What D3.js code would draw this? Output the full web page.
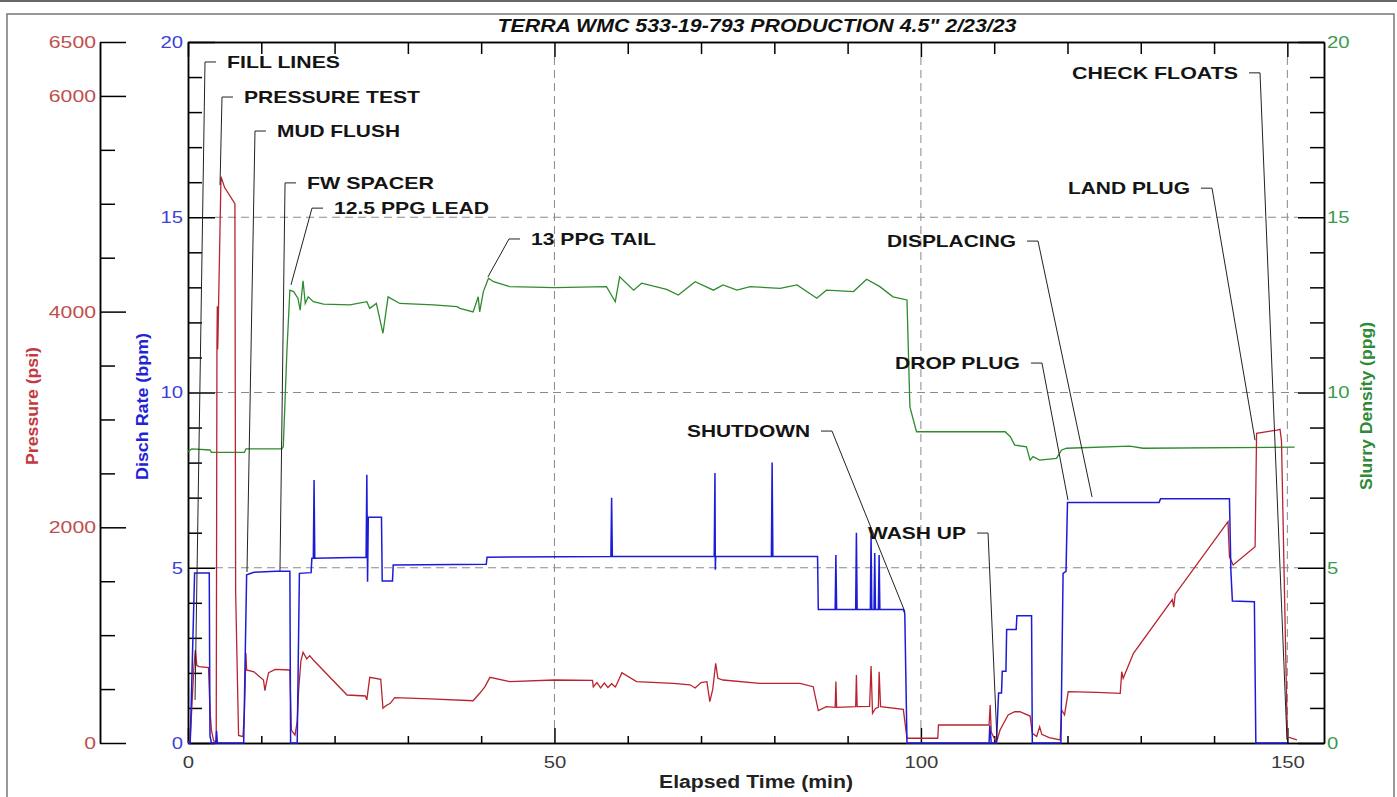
<!DOCTYPE html>
<html>
<head>
<meta charset="utf-8">
<script src="https://cdn.jsdelivr.net/npm/d3@7"></script>
<style>
  body { margin: 0; background: #fff; }
  svg { display: block; font-family: "Liberation Sans", Arial, sans-serif; }
</style>
</head>
<body>
<div id="chart"></div>
<script>
// Cement job chart: pressure, discharge rate and slurry density vs elapsed time

// ---- data ----
// [elapsed minutes, psi]
const pressureData = [
  [0, 0], [0.3, 30], [0.8, 700], [1.0, 862], [1.2, 720], [1.5, 708], [2.8, 700], [3.0, 300],
  [3.2, 120], [3.5, 20], [3.85, 10], [3.95, 3700], [4.0, 4050], [4.05, 3650], [4.1, 3800],
  [4.5, 5250], [5.0, 5150], [6.4, 5000], [6.5, 1400], [6.9, 70], [7.5, 58], [7.7, 300],
  [7.9, 834], [8.0, 677], [9, 660], [10.3, 584], [10.5, 485], [10.7, 560], [11.0, 652],
  [11.9, 683], [13.9, 677], [14.1, 120], [14.6, 74], [14.9, 200], [15.1, 491], [15.4, 760],
  [15.7, 841], [16.2, 780], [16.6, 810], [17.1, 770], [21.7, 445], [24.2, 436], [24.4, 400],
  [24.8, 609], [26.3, 591], [26.6, 322], [27.0, 345], [27.6, 368], [28.2, 420], [33, 410],
  [38.9, 392], [39.8, 461], [40.5, 520], [41.2, 609], [43.9, 569], [50, 584], [55.2, 580],
  [55.3, 520], [55.8, 560], [56.3, 510], [56.8, 555], [57.3, 515], [57.8, 550], [58.3, 520],
  [58.5, 545], [59.2, 652], [61.2, 569], [66.2, 553], [68.5, 540], [69.2, 510], [70.0, 560],
  [70.8, 569], [71.2, 383], [71.6, 500], [72.0, 739], [72.3, 600], [73.0, 584], [78.0, 553],
  [83.5, 553], [85.3, 522], [86.0, 300], [87.1, 337], [88.3, 330], [88.4, 569], [88.5, 330],
  [91.1, 337], [91.2, 630], [91.3, 337], [93.0, 340], [93.2, 714], [93.4, 275], [93.8, 320],
  [94.2, 330], [94.3, 661], [94.5, 337], [97.6, 312], [98.1, 44], [102.3, 44], [102.4, 167],
  [109.3, 167], [109.45, 352], [109.6, 100], [110.3, 5], [110.8, 120], [111.9, 260],
  [112.8, 290], [113.5, 290], [114.9, 250], [115.2, 90], [115.8, 60], [116.2, 151],
  [116.5, 80], [117.5, 50], [119.0, 28], [119.2, 306], [119.6, 260], [120.1, 476], [124, 470],
  [127.2, 461], [127.4, 661], [127.6, 600], [129.0, 832], [134.3, 1330], [134.5, 1260],
  [134.7, 1380], [141.9, 2052], [142.1, 1727], [142.6, 1650], [145.6, 1820], [145.8, 2871],
  [148.6, 2902], [149.0, 2909], [149.2, 2800], [150.0, 58], [151.3, 28]
];

// [elapsed minutes, bpm]
const rateData = [
  [0, 0], [0.3, 0], [0.9, 4.85], [2.9, 4.85], [3.0, 0.2], [3.2, 0], [3.8, 0], [3.9, 0.35],
  [4.0, 0], [7.6, 0], [8.0, 4.8], [9, 4.87], [12, 4.9], [13.9, 4.9], [14.0, 0], [14.9, 0],
  [15.2, 4.84], [16.8, 4.86], [16.9, 5.27], [17.1, 5.27], [17.2, 7.5], [17.3, 5.27],
  [24.3, 5.3], [24.4, 7.65], [24.5, 4.6], [24.6, 6.44], [26.4, 6.44], [26.5, 4.62],
  [27.9, 4.62], [28.0, 5.08], [40.7, 5.1], [40.8, 5.3], [57.7, 5.32], [57.8, 7.0],
  [57.9, 5.32], [71.8, 5.32], [71.9, 7.7], [71.95, 4.94], [72.0, 5.32], [79.6, 5.32],
  [79.7, 8.0], [79.8, 5.32], [85.9, 5.32], [86.0, 3.81], [88.3, 3.81], [88.4, 5.36],
  [88.5, 3.81], [91.1, 3.81], [91.2, 6.0], [91.3, 3.81], [93.1, 3.81], [93.2, 5.93],
  [93.3, 3.81], [93.6, 3.81], [93.7, 5.42], [93.8, 3.81], [94.2, 3.81], [94.3, 5.36],
  [94.4, 3.81], [97.6, 3.81], [97.8, 3.7], [98.1, 0], [109.3, 0], [109.4, 0.5], [109.6, 0],
  [110.3, 0], [110.6, 1.43], [111.0, 1.43], [111.1, 2.05], [111.6, 2.05], [111.7, 3.24],
  [113.0, 3.24], [113.1, 3.63], [115.1, 3.63], [115.2, 0], [119.1, 0], [119.4, 4.84],
  [119.8, 4.9], [120.0, 6.86], [132.5, 6.86], [132.7, 6.97], [142.1, 6.97], [142.3, 4.89],
  [142.5, 4.05], [145.5, 4.03], [145.7, 0], [150, 0]
];

// [elapsed minutes, ppg]
const densityData = [
  [0, 8.31], [0.5, 8.39], [3.0, 8.36], [3.2, 8.29], [7.7, 8.29], [7.9, 8.39], [12.8, 8.39],
  [13.0, 8.45], [13.5, 11.2], [13.9, 12.92], [14.4, 12.88], [15.0, 12.69], [15.3, 12.35],
  [15.7, 13.19], [16.0, 12.54], [16.4, 12.73], [17.1, 12.59], [18.5, 12.52], [22.1, 12.5],
  [24.4, 12.59], [24.8, 12.4], [25.7, 12.54], [26.6, 11.69], [27.3, 12.73], [28.9, 12.54],
  [33.5, 12.5], [36.7, 12.45], [37.1, 12.4], [38.9, 12.3], [39.6, 12.73], [39.8, 12.3],
  [40.3, 12.88], [41.0, 13.26], [41.7, 13.16], [43.9, 13.02], [50, 12.99], [57.1, 13.02],
  [58.3, 12.59], [58.9, 13.3], [60.8, 12.92], [61.9, 13.12], [65.3, 12.94], [66.9, 12.78],
  [69.2, 13.16], [71.7, 12.92], [73.0, 13.07], [74.9, 12.92], [76.7, 13.02], [80.8, 12.97],
  [83.1, 13.07], [85.8, 12.69], [87.1, 12.92], [90.8, 12.88], [92.6, 13.23], [94.4, 13.02],
  [96.2, 12.73], [98.1, 12.64], [98.5, 9.59], [99.4, 8.88], [106.7, 8.88], [111.5, 8.88],
  [112.2, 8.74], [112.8, 8.5], [114.4, 8.45], [114.9, 8.07], [115.3, 8.17], [116.2, 8.07],
  [118.5, 8.12], [119.2, 8.36], [119.9, 8.41], [128.5, 8.47], [130.3, 8.41], [151, 8.44]
];

// ticks
const timeMajorTicks = [0, 50, 100, 150];
const timeMinorTicks = [10, 20, 30, 40, 60, 70, 80, 90, 110, 120, 130, 140];
const rateMajorTicks = [0, 5, 10, 15, 20];
const rateMinorTicks = [1, 2, 3, 4, 6, 7, 8, 9, 11, 12, 13, 14, 16, 17, 18, 19];
const pressureMajorTicks = [0, 2000, 4000, 6000, 6500];
const pressureMinorTicks = [500, 1000, 1500, 2500, 3000, 3500, 4500, 5000, 5500];
const gridTimes = [50, 100, 150];
const gridRates = [5, 10, 15];

// event labels: knee of the leader and the point it marks (minutes, bpm units)
const eventLabels = ["FILL LINES", "PRESSURE TEST", "MUD FLUSH", "FW SPACER", "12.5 PPG LEAD",
  "13 PPG TAIL", "DISPLACING", "CHECK FLOATS", "LAND PLUG", "DROP PLUG", "SHUTDOWN", "WASH UP"];
const eventSides = ["left", "left", "left", "left", "left", "left",
  "right", "right", "right", "right", "right", "right"];
const eventKnees = [[2.32, 19.43], [4.64, 18.43], [9.14, 17.46], [13.24, 15.98], [16.92, 15.26],
  [43.8, 14.38], [115.98, 14.32], [146.27, 19.12], [139.72, 15.83], [116.52, 10.84],
  [87.87, 8.9], [109.16, 5.99]];
const eventTargets = [[0.96, 1.23], [4.37, 15.92], [8.05, 4.88], [12.55, 4.91], [14.05, 13.07],
  [40.93, 13.3], [123.35, 7.02], [149.95, 0.09], [145.59, 8.64], [120.07, 6.93],
  [97.83, 3.74], [110.38, 0.09]];
const eventWidths = [113, 176, 123, 127, 155, 125, 129, 166, 122, 125, 123, 98];

// ---- layout ----
const W = 1397, H = 797;
const colors = {
  pressure: "#b8232f", rate: "#1c1cd8", density: "#2e8b2e",
  pressureTxt: "#bf4f4f", rateTxt: "#3f3fd8", densityTxt: "#3d9a4f"
};

const svg = d3.select("#chart").append("svg").attr("width", W).attr("height", H);

// outer frame
svg.append("rect").attr("x", 0).attr("y", 0).attr("width", W).attr("height", 2).attr("fill", "#666");
svg.append("rect").attr("x", 7).attr("y", 14).attr("width", 1387).attr("height", 800)
  .attr("fill", "none").attr("stroke", "#777").attr("stroke-width", 1.5);

// scales
const x = d3.scaleLinear().domain([0, 155]).range([188, 1324]);
const yRate = d3.scaleLinear().domain([0, 20]).range([743, 42]);
const yPress = d3.scaleLinear().domain([0, 6500]).range([743, 42]);
const yDens = d3.scaleLinear().domain([0, 20]).range([743, 42]);

// grid
const grid = svg.append("g").attr("stroke", "#8a8a8a").attr("stroke-width", 1)
  .attr("stroke-dasharray", "8,5");
grid.selectAll(".gv").data(gridTimes).join("line")
  .attr("x1", (d) => x(d)).attr("x2", (d) => x(d)).attr("y1", 57).attr("y2", 728);
grid.selectAll(".gh").data(gridRates).join("line")
  .attr("y1", (d) => yRate(d)).attr("y2", (d) => yRate(d)).attr("x1", 215).attr("x2", 1298);

// helper to style axis groups
function styleAxis(g, color, digitW) {
  g.select(".domain").attr("stroke", "#000").attr("stroke-width", 1.5);
  g.selectAll(".tick line").attr("stroke", "#000").attr("stroke-width", 1.5);
  g.selectAll(".tick text")
    .attr("fill", color)
    .style("font-size", "17px")
    .attr("textLength", (d) => String(d).length * digitW)
    .attr("lengthAdjust", "spacingAndGlyphs");
}

const plain = d3.format("d");

// time axis (bottom + top)
const bottomMinor = svg.append("g").attr("transform", "translate(0,743)")
  .call(d3.axisBottom(x).tickValues(timeMinorTicks).tickSizeInner(-7).tickSizeOuter(0).tickFormat(""));
styleAxis(bottomMinor, "#333", 11.3);
const bottomMajor = svg.append("g").attr("transform", "translate(0,743)")
  .call(d3.axisBottom(x).tickValues(timeMajorTicks).tickSizeInner(-15).tickSizeOuter(0)
    .tickPadding(13).tickFormat(plain));
styleAxis(bottomMajor, "#3a3a3a", 11.3);

const topMinor = svg.append("g").attr("transform", "translate(0,42)")
  .call(d3.axisTop(x).tickValues(timeMinorTicks).tickSizeInner(-12).tickSizeOuter(0).tickFormat(""));
styleAxis(topMinor, "#333", 11.3);
const topMajor = svg.append("g").attr("transform", "translate(0,42)")
  .call(d3.axisTop(x).tickValues(timeMajorTicks).tickSizeInner(-15).tickSizeOuter(0).tickFormat(""));
styleAxis(topMajor, "#333", 11.3);

// disch rate axis (left, inner)
const rateMinor = svg.append("g").attr("transform", "translate(188,0)")
  .call(d3.axisLeft(yRate).tickValues(rateMinorTicks).tickSizeInner(-14).tickSizeOuter(0).tickFormat(""));
styleAxis(rateMinor, colors.rateTxt, 11.3);
const rateMajor = svg.append("g").attr("transform", "translate(188,0)")
  .call(d3.axisLeft(yRate).tickValues(rateMajorTicks).tickSizeInner(-27).tickSizeOuter(0)
    .tickPadding(5).tickFormat(plain));
styleAxis(rateMajor, colors.rateTxt, 11.3);

// pressure axis (left, outer)
const pressMinor = svg.append("g").attr("transform", "translate(100,0)")
  .call(d3.axisLeft(yPress).tickValues(pressureMinorTicks).tickSizeInner(-15).tickSizeOuter(0).tickFormat(""));
styleAxis(pressMinor, colors.pressureTxt, 11.8);
const pressMajor = svg.append("g").attr("transform", "translate(100,0)")
  .call(d3.axisLeft(yPress).tickValues(pressureMajorTicks).tickSizeInner(-26).tickSizeOuter(0)
    .tickPadding(4).tickFormat(plain));
styleAxis(pressMajor, colors.pressureTxt, 11.8);

// slurry density axis (right)
const densMinor = svg.append("g").attr("transform", "translate(1324,0)")
  .call(d3.axisRight(yDens).tickValues(rateMinorTicks).tickSizeInner(-14).tickSizeOuter(0).tickFormat(""));
styleAxis(densMinor, colors.densityTxt, 11.3);
const densMajor = svg.append("g").attr("transform", "translate(1324,0)")
  .call(d3.axisRight(yDens).tickValues(rateMajorTicks).tickSizeInner(-26).tickSizeOuter(0)
    .tickPadding(3).tickFormat(plain));
styleAxis(densMajor, colors.densityTxt, 11.3);

// series
const lineRate = d3.line().x((d) => x(d[0])).y((d) => yRate(d[1]));
const linePress = d3.line().x((d) => x(d[0])).y((d) => yPress(d[1]));
const lineDens = d3.line().x((d) => x(d[0])).y((d) => yDens(d[1]));

svg.append("path").datum(densityData).attr("d", lineDens)
  .attr("fill", "none").attr("stroke", colors.density).attr("stroke-width", 1.3);
svg.append("path").datum(pressureData).attr("d", linePress)
  .attr("fill", "none").attr("stroke", colors.pressure).attr("stroke-width", 1.3);
svg.append("path").datum(rateData).attr("d", lineRate)
  .attr("fill", "none").attr("stroke", colors.rate).attr("stroke-width", 1.5);

// event annotations
eventLabels.forEach((label, i) => {
  const kx = x(eventKnees[i][0]);
  const ky = yRate(eventKnees[i][1]);
  const tx = x(eventTargets[i][0]);
  const ty = yRate(eventTargets[i][1]);
  const dir = eventSides[i] === "left" ? 1 : -1;
  svg.append("path")
    .attr("d", `M${kx + dir * 11},${ky}L${kx},${ky}L${tx},${ty}`)
    .attr("fill", "none").attr("stroke", "#222").attr("stroke-width", 1);
  svg.append("text")
    .attr("x", kx + dir * 22)
    .attr("y", ky + 6)
    .attr("text-anchor", dir === 1 ? "start" : "end")
    .attr("textLength", eventWidths[i])
    .attr("lengthAdjust", "spacingAndGlyphs")
    .style("font-size", "17px")
    .style("font-weight", "bold")
    .attr("fill", "#141414")
    .text(label);
});

// titles
svg.append("text")
  .attr("x", 757).attr("y", 31.5).attr("text-anchor", "middle")
  .attr("textLength", 519).attr("lengthAdjust", "spacingAndGlyphs")
  .style("font-size", "18px").style("font-weight", "bold").style("font-style", "italic")
  .attr("fill", "#111")
  .text('TERRA WMC 533-19-793 PRODUCTION 4.5" 2/23/23');

svg.append("text")
  .attr("x", 756).attr("y", 788).attr("text-anchor", "middle")
  .attr("textLength", 194).attr("lengthAdjust", "spacingAndGlyphs")
  .style("font-size", "18px").style("font-weight", "bold")
  .attr("fill", "#222")
  .text("Elapsed Time (min)");

function axisTitle(tx, ty, len, color, label) {
  svg.append("text")
    .attr("transform", `translate(${tx},${ty}) rotate(-90)`)
    .attr("text-anchor", "middle")
    .attr("textLength", len).attr("lengthAdjust", "spacingAndGlyphs")
    .style("font-size", "17px").style("font-weight", "bold")
    .attr("fill", color)
    .text(label);
}
axisTitle(38, 406, 118, "#c23a3f", "Pressure (psi)");
axisTitle(148, 406.5, 147, "#2323d6", "Disch Rate (bpm)");
axisTitle(1372, 406, 168, "#2f8a35", "Slurry Density (ppg)");
</script>
</body>
</html>
